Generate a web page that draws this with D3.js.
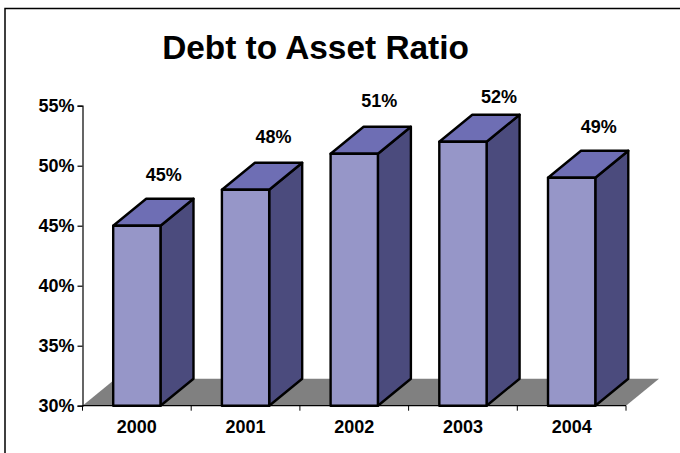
<!DOCTYPE html>
<html>
<head>
<meta charset="utf-8">
<script src="https://cdn.jsdelivr.net/npm/d3@7"></script>
<style>
  html, body { margin: 0; padding: 0; background: #fff; }
  text { font-family: "Liberation Sans", Arial, sans-serif; font-weight: bold; fill: #000; }
</style>
</head>
<body>
<div id="chart"></div>
<script>
const years = ["2000", "2001", "2002", "2003", "2004"];
const ratios = [45, 48, 51, 52, 49];
const yTicks = [30, 35, 40, 45, 50, 55];

const width = 680, height = 453;
const x0 = 82.5, x1 = 626, yBase = 405.7, yTop = 105.7;
const depthX = 33, depthY = 27;

// hand placed value labels in the original, so nudge them from the default spot
const labelNudgeX = [0, 1, -2, 9, 0];
const labelNudgeY = [0, -2, -2, 6, 0];

const svg = d3.select("#chart").append("svg")
    .attr("width", width)
    .attr("height", height)
    .style("display", "block");

// outer frame, only top and left are inside the picture
svg.append("path")
    .attr("d", "M5,453V8.5H680")
    .attr("fill", "none")
    .attr("stroke", "#000")
    .attr("stroke-width", 1.5);

svg.append("text")
    .attr("x", 315.5).attr("y", 59)
    .attr("text-anchor", "middle")
    .style("font-size", "33.4px")
    .text("Debt to Asset Ratio");

const y = d3.scaleLinear().domain([30, 55]).range([yBase, yTop]);
const x = d3.scaleBand().domain(years).range([x0, x1])
    .paddingInner(0.565).paddingOuter(0.2825);
const step = x.step();

// floor
svg.append("path")
    .attr("d", d3.line()([
        [x0, yBase], [x0 + depthX, yBase - depthY],
        [x1 + depthX, yBase - depthY], [x1, yBase]
    ]) + "Z")
    .attr("fill", "#808080");

// axes
const yAxis = d3.axisLeft(y)
    .tickValues(yTicks)
    .tickSize(5)
    .tickFormat(d => d + "%");
const gy = svg.append("g")
    .attr("transform", "translate(" + x0 + ",0)")
    .call(yAxis);
gy.select(".domain").attr("stroke", "#000").attr("stroke-width", 1.2);
gy.selectAll(".tick line").attr("stroke", "#000").attr("stroke-width", 1.2);
gy.selectAll(".tick text")
    .attr("x", -8)
    .style("font-size", "18px")
    .style("font-family", '"Liberation Sans", Arial, sans-serif');

svg.append("line")
    .attr("x1", x0).attr("x2", x1)
    .attr("y1", yBase).attr("y2", yBase)
    .attr("stroke", "#000").attr("stroke-width", 1.2);

// x ticks sit between the bars
svg.selectAll(".xtick")
    .data(d3.range(years.length + 1))
    .enter().append("line")
    .attr("class", "xtick")
    .attr("x1", d => x0 + d * step).attr("x2", d => x0 + d * step)
    .attr("y1", yBase).attr("y2", yBase + 5)
    .attr("stroke", "#000").attr("stroke-width", 1);

svg.selectAll(".xlabel")
    .data(years)
    .enter().append("text")
    .attr("class", "xlabel")
    .attr("x", d => x(d) + x.bandwidth() / 2)
    .attr("y", 433)
    .attr("text-anchor", "middle")
    .style("font-size", "18px")
    .text(d => d);

// bars
const bars = svg.selectAll(".bar")
    .data(years.map((d, i) => ({ year: d, value: ratios[i] })))
    .enter().append("g")
    .attr("class", "bar")
    .attr("stroke", "#000")
    .attr("stroke-width", 2.4)
    .attr("stroke-linejoin", "round");

bars.append("path")
    .attr("fill", "#4b4b7d")
    .attr("d", d => {
        const r = x(d.year) + x.bandwidth(), t = y(d.value);
        return d3.line()([[r, t], [r + depthX, t - depthY], [r + depthX, yBase - depthY], [r, yBase]]) + "Z";
    });

bars.append("path")
    .attr("fill", "#6e6eb4")
    .attr("d", d => {
        const l = x(d.year), r = l + x.bandwidth(), t = y(d.value);
        return d3.line()([[l, t], [l + depthX, t - depthY], [r + depthX, t - depthY], [r, t]]) + "Z";
    });

bars.append("rect")
    .attr("fill", "#9696c8")
    .attr("x", d => x(d.year))
    .attr("y", d => y(d.value))
    .attr("width", x.bandwidth())
    .attr("height", d => yBase - y(d.value));

svg.selectAll(".value")
    .data(ratios)
    .enter().append("text")
    .attr("class", "value")
    .attr("x", (d, i) => x(years[i]) + x.bandwidth() / 2 + 27 + labelNudgeX[i])
    .attr("y", (d, i) => y(d) - 45 + labelNudgeY[i])
    .attr("text-anchor", "middle")
    .style("font-size", "18px")
    .text(d => d + "%");
</script>
</body>
</html>
